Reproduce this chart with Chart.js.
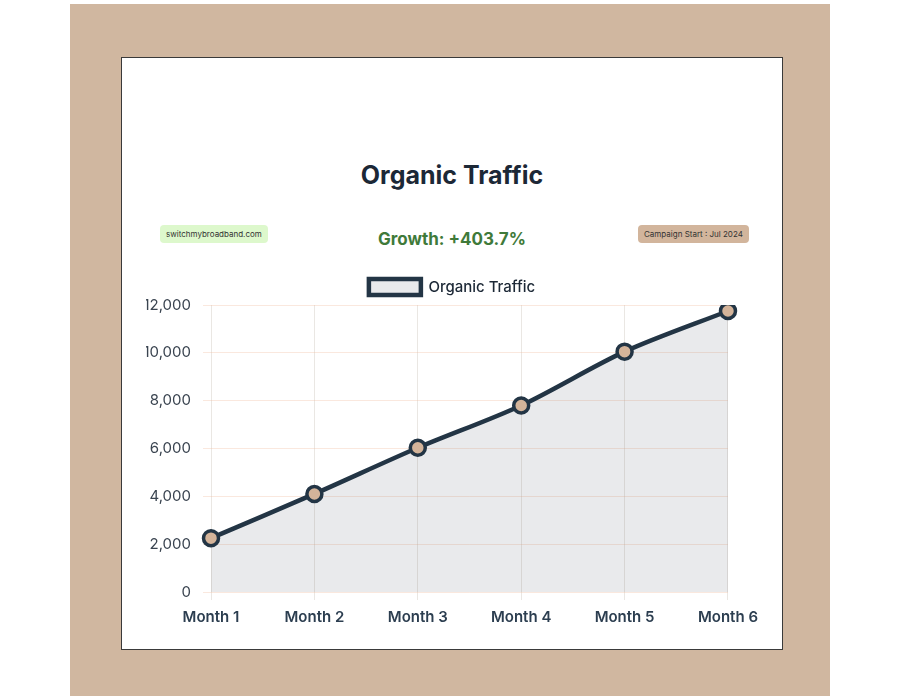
<!DOCTYPE html>
<html>
<head>
<meta charset="utf-8">
<script src="https://cdn.jsdelivr.net/npm/chart.js@4.4.1/dist/chart.umd.min.js"></script>
<style>
  html, body { margin:0; padding:0; width:900px; height:700px; background:#fff; font-family:Inter, "Noto Sans", sans-serif; }
  #frame { position:absolute; left:70px; top:4px; width:760px; height:692px; background:#d0b7a0; }
  #card  { position:absolute; left:121px; top:57px; width:660px; height:591px; background:#fff; border:1px solid #3a3a3a; }
  #title { position:absolute; left:0; width:660px; top:102px; text-align:center; font-size:25px; font-weight:700; color:#1c2836; }
  #growth { position:absolute; left:0; width:660px; top:171px; text-align:center; font-size:17px; font-weight:700; color:#3f7a3a; }
  .badge { position:absolute; top:167px; font-size:8px; color:#333; padding:4px 6px; border-radius:4px; }
  #site  { left:38px; background:#ddf8cc; }
  #camp  { left:516px; background:#d2b59c; }
  #wrap  { position:absolute; left:24px; top:211px; width:620px; height:365px; }
</style>
</head>
<body>
<div id="frame"></div>
<div id="card">
  <div id="title">Organic Traffic</div>
  <div class="badge" id="site">switchmybroadband.com</div>
  <div id="growth">Growth: +403.7%</div>
  <div class="badge" id="camp">Campaign Start : Jul 2024</div>
  <div id="wrap"><canvas id="chart"></canvas></div>
</div>
<script>
const months  = ['Month 1', 'Month 2', 'Month 3', 'Month 4', 'Month 5', 'Month 6'];
const traffic = [2250, 4100, 6030, 7800, 10050, 11750];
const yTicks  = [0, 2000, 4000, 6000, 8000, 10000, 12000];

const navy = '#233545';

new Chart(document.getElementById('chart'), {
  type: 'line',
  data: {
    labels: months,
    datasets: [{
      label: 'Organic Traffic',
      data: traffic,
      borderColor: navy,
      backgroundColor: 'rgba(35,53,69,0.1)',
      borderWidth: 4.5,
      fill: true,
      tension: 0.3,
      pointRadius: 7.5,
      pointHoverRadius: 8,
      pointBackgroundColor: '#d4b49a',
      pointBorderColor: navy,
      pointBorderWidth: 3.5,
    }]
  },
  options: {
    responsive: true,
    maintainAspectRatio: false,
    animation: false,
    layout: { padding: { left: 0, right: 8, top: 0, bottom: 0 } },
    plugins: {
      legend: {
        labels: {
          boxWidth: 52, boxHeight: 16,
          color: '#1c2836',
          font: { family: 'Inter', size: 15, weight: '500' }
        }
      },
      tooltip: { enabled: false }
    },
    scales: {
      x: {
        offset: false,
        grid: { color: 'rgba(195,185,175,0.35)' },
        border: { display: false },
        ticks: { color: '#2c3e50', padding: 8, font: { family: 'Inter', size: 15, weight: '600' } }
      },
      y: {
        min: 0, max: 12000,
        afterBuildTicks: axis => { axis.ticks = yTicks.map(v => ({ value: v })); },
        afterFit: axis => { axis.width = 65; },
        grid: { color: 'rgba(240,190,160,0.35)' },
        border: { display: false },
        ticks: {
          color: '#3a4450',
          font: { family: 'Inter', size: 15 },
          padding: 12,
          callback: v => v.toLocaleString('en-US')
        }
      }
    }
  }
});
</script>
</body>
</html>
